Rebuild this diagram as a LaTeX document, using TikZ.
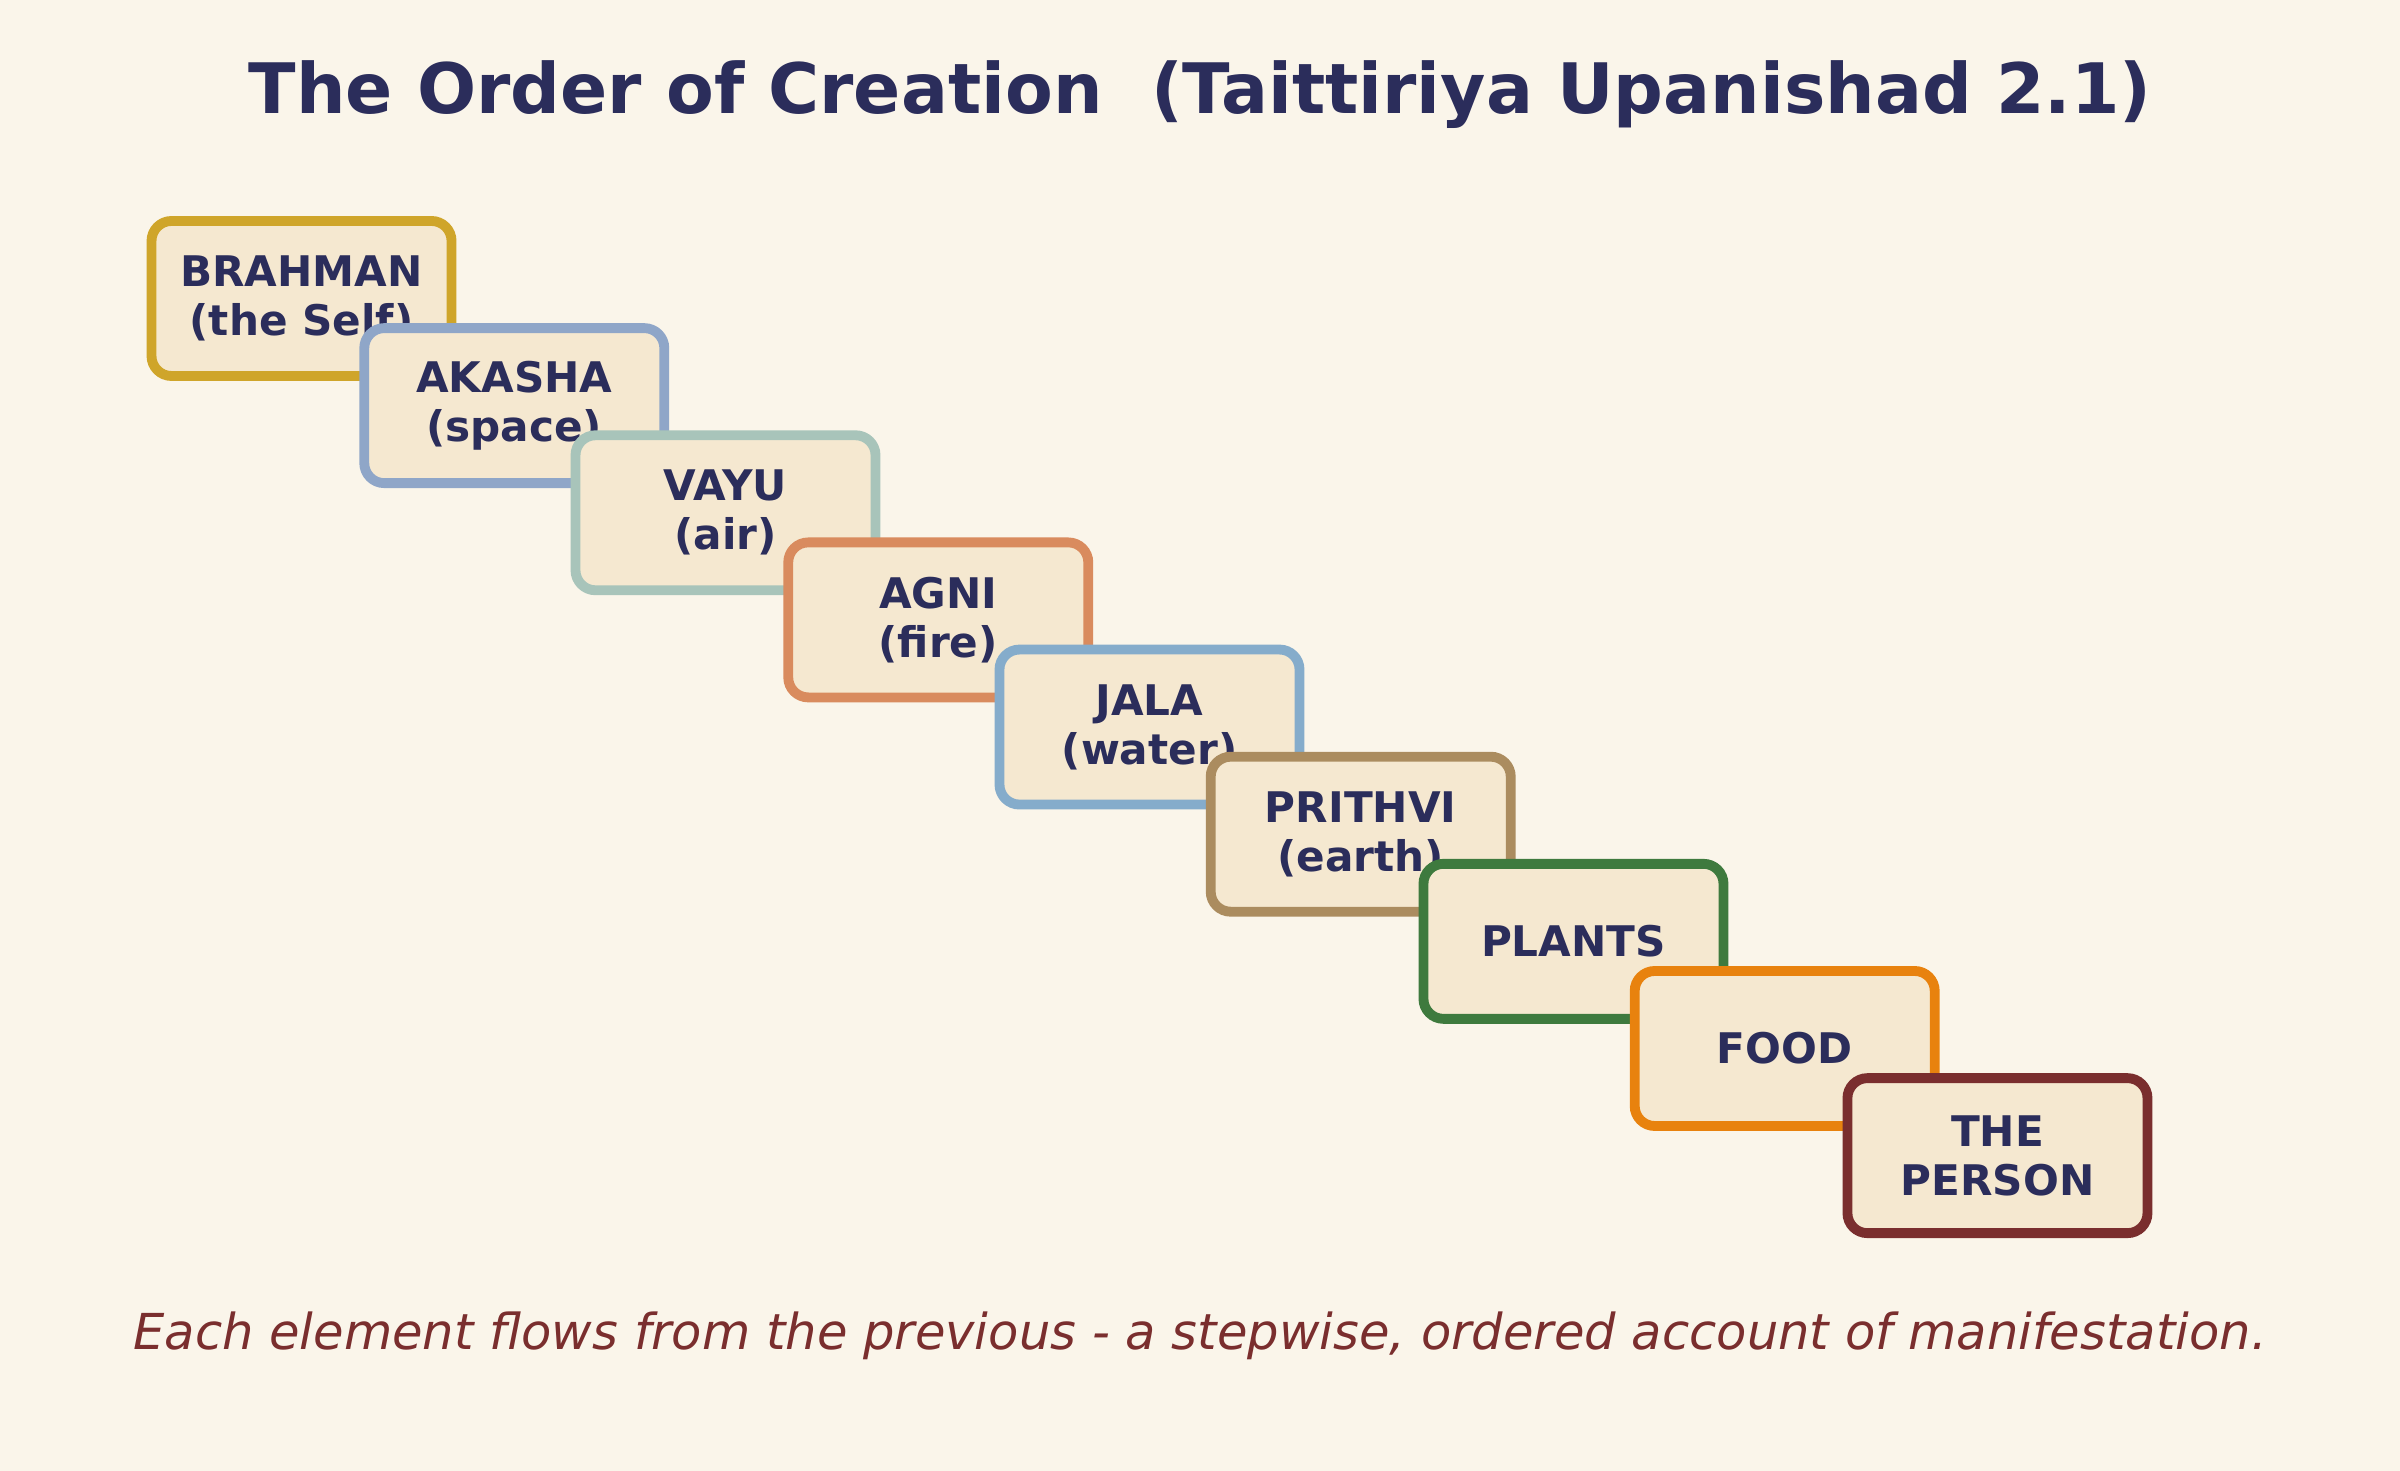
\documentclass[tikz,border=0pt]{standalone}
\usepackage{fontspec}
\setmainfont{DejaVu Sans}
\definecolor{bg_cream}   {HTML}{FAF5EA}
\definecolor{box_fill}   {HTML}{F5E8D0}
\definecolor{ink_navy}   {HTML}{2B2D5B}
\definecolor{ink_maroon} {HTML}{7A2E2E}
\definecolor{c_gold}     {HTML}{CFA52A}
\definecolor{c_slate}    {HTML}{8FA6C8}
\definecolor{c_sage}     {HTML}{A8C4BA}
\definecolor{c_clay}     {HTML}{D98B5E}
\definecolor{c_sky}      {HTML}{85ACCB}
\definecolor{c_tan}      {HTML}{AB8C5F}
\definecolor{c_green}    {HTML}{3E7A3E}
\definecolor{c_orange}   {HTML}{E8820E}
\definecolor{c_maroon}   {HTML}{7A2E2E}
\begin{document}
\begin{tikzpicture}[x=0.01531cm, y=-0.01531cm,
		stage/.style  = {rectangle,
			rounded corners = 0.2cm,
			fill            = box_fill,
			line width      = 2.8pt,
			minimum width   = 3.0cm,
			minimum height  = 1.55cm,
			align           = center,
			inner sep       = 0pt,
			font = \fontsize{12pt}{14pt}\selectfont\bfseries\color{ink_navy}}]
	\fill[bg_cream] (0,0) rectangle (1568,961);
	\useasboundingbox (0,0) rectangle (1568,961);
	
	\node[font=\fontsize{19.8pt}{24pt}\selectfont\bfseries, text=ink_navy] (title) at (784,62)
	{The Order of Creation\ \ (Taittiriya Upanishad 2.1)};
	
	\node[stage, draw=c_gold]   (brahman) at (197,195)  {BRAHMAN\\(the Self)};
	\node[stage, draw=c_slate]  (akasha)  at (336,265)  {AKASHA\\(space)};
	\node[stage, draw=c_sage]   (vayu)    at (474,335)  {VAYU\\(air)};
	\node[stage, draw=c_clay]   (agni)    at (613,405)  {AGNI\\(fire)};
	\node[stage, draw=c_sky]    (jala)    at (751,475)  {JALA\\(water)};
	\node[stage, draw=c_tan]    (prithvi) at (889,545)  {PRITHVI\\(earth)};
	\node[stage, draw=c_green]  (plants)  at (1028,615) {PLANTS};
	\node[stage, draw=c_orange] (food)    at (1166,685) {FOOD};
	\node[stage, draw=c_maroon] (person)  at (1305,755) {THE\\PERSON};
	
	\node[font=\fontsize{14.1pt}{16pt}\selectfont\itshape, text=ink_maroon] (note) at (784,873)
	{Each element flows from the previous - a stepwise, ordered account of manifestation.};
\end{tikzpicture}
\end{document}
